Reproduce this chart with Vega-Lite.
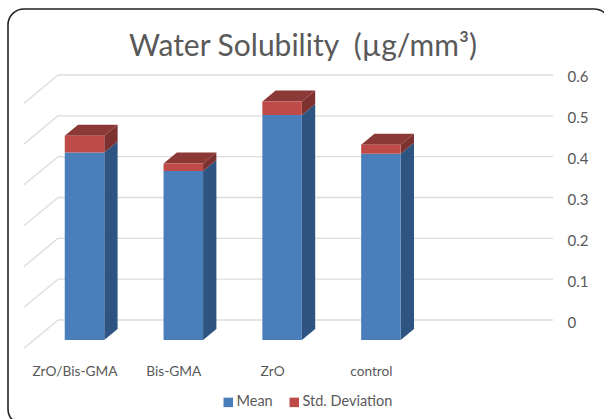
{
"$schema":"https://vega.github.io/schema/vega-lite/v6.json",
"width":602,"height":416,
"autosize":{"type":"none"},
"padding":{"left":8,"top":9,"right":-6,"bottom":-6},
"background":"white",
"view":{"stroke":"#222222","strokeWidth":1.6,"cornerRadius":16,"fill":"white"},
"config":{"font":"Lato"},
"title":{"text":"Water Solubility\u00a0\u00a0(µg/mm³)","font":"Lato","fontSize":30,"fontWeight":"normal","color":"#595959","anchor":"middle","offset":-53,"dx":-6},
"datasets":{
"bars":[
{"category":"ZrO/Bis-GMA","position":1,"series":"Mean","value":0.459},
{"category":"ZrO/Bis-GMA","position":1,"series":"Std. Deviation","value":0.041},
{"category":"Bis-GMA","position":2,"series":"Mean","value":0.414},
{"category":"Bis-GMA","position":2,"series":"Std. Deviation","value":0.018},
{"category":"ZrO","position":3,"series":"Mean","value":0.551},
{"category":"ZrO","position":3,"series":"Std. Deviation","value":0.033},
{"category":"control","position":4,"series":"Mean","value":0.456},
{"category":"control","position":4,"series":"Std. Deviation","value":0.022}
],
"grid":[
{"value":0,"back":0.732,"end":5.742,"front":0.388,"frontValue":-0.069},
{"value":0.1,"back":0.732,"end":5.742,"front":0.388,"frontValue":0.031},
{"value":0.2,"back":0.732,"end":5.742,"front":0.388,"frontValue":0.131},
{"value":0.3,"back":0.732,"end":5.742,"front":0.388,"frontValue":0.231},
{"value":0.4,"back":0.732,"end":5.742,"front":0.388,"frontValue":0.331},
{"value":0.5,"back":0.732,"end":5.742,"front":0.388,"frontValue":0.431},
{"value":0.6,"back":0.732,"end":5.742,"front":0.388,"frontValue":0.531}
],
"sideBlue":[
{"category":"ZrO/Bis-GMA","x":1.2,"low":0,"high":0.459},{"category":"ZrO/Bis-GMA","x":1.335,"low":0.027,"high":0.486},
{"category":"Bis-GMA","x":2.2,"low":0,"high":0.414},{"category":"Bis-GMA","x":2.335,"low":0.027,"high":0.441},
{"category":"ZrO","x":3.2,"low":0,"high":0.551},{"category":"ZrO","x":3.335,"low":0.027,"high":0.578},
{"category":"control","x":4.2,"low":0,"high":0.456},{"category":"control","x":4.335,"low":0.027,"high":0.483}
],
"sideRed":[
{"category":"ZrO/Bis-GMA","x":1.2,"low":0.459,"high":0.5},{"category":"ZrO/Bis-GMA","x":1.335,"low":0.486,"high":0.527},
{"category":"Bis-GMA","x":2.2,"low":0.414,"high":0.432},{"category":"Bis-GMA","x":2.335,"low":0.441,"high":0.459},
{"category":"ZrO","x":3.2,"low":0.551,"high":0.584},{"category":"ZrO","x":3.335,"low":0.578,"high":0.611},
{"category":"control","x":4.2,"low":0.456,"high":0.478},{"category":"control","x":4.335,"low":0.483,"high":0.505}
],
"top":[
{"category":"ZrO/Bis-GMA","x":0.8,"low":0.5,"high":0.5},{"category":"ZrO/Bis-GMA","x":0.935,"low":0.5,"high":0.527},{"category":"ZrO/Bis-GMA","x":1.2,"low":0.5,"high":0.527},{"category":"ZrO/Bis-GMA","x":1.335,"low":0.527,"high":0.527},
{"category":"Bis-GMA","x":1.8,"low":0.432,"high":0.432},{"category":"Bis-GMA","x":1.935,"low":0.432,"high":0.459},{"category":"Bis-GMA","x":2.2,"low":0.432,"high":0.459},{"category":"Bis-GMA","x":2.335,"low":0.459,"high":0.459},
{"category":"ZrO","x":2.8,"low":0.584,"high":0.584},{"category":"ZrO","x":2.935,"low":0.584,"high":0.611},{"category":"ZrO","x":3.2,"low":0.584,"high":0.611},{"category":"ZrO","x":3.335,"low":0.611,"high":0.611},
{"category":"control","x":3.8,"low":0.478,"high":0.478},{"category":"control","x":3.935,"low":0.478,"high":0.505},{"category":"control","x":4.2,"low":0.478,"high":0.505},{"category":"control","x":4.335,"low":0.505,"high":0.505}
]
},
"layer":[
{"data":{"name":"grid"},"mark":{"type":"rule","color":"#dcdcdc","strokeWidth":1.3},
 "encoding":{
 "x":{"field":"back","type":"quantitative","scale":{"domain":[0.2257,6.3188],"nice":false,"zero":false,"padding":0},"axis":{"title":null,"values":[1,2,3,4],"orient":"bottom","domain":false,"ticks":false,"grid":false,"labelExpr":"['ZrO/Bis-GMA','Bis-GMA','ZrO','control'][datum.value-1]","labelOffset":-10,"labelPadding":-61,"labelFontSize":13.7,"labelColor":"#595959","labelFont":"Lato","labelOverlap":false,"labelFlush":false}},
 "x2":{"field":"end"},
 "y":{"field":"value","type":"quantitative","scale":{"domain":[-0.2571,0.7616],"nice":false,"zero":false},"axis":{"title":null,"orient":"right","values":[0,0.1,0.2,0.3,0.4,0.5,0.6],"format":"~g","domain":false,"ticks":false,"grid":false,"labelPadding":-43,"labelAlign":"left","labelOffset":2,"labelFontSize":15,"labelColor":"#595959","labelFont":"Lato"}},
 "y2":{"field":"value"}
 }},
{"data":{"name":"grid"},"mark":{"type":"rule","color":"#dcdcdc","strokeWidth":1.3},
 "encoding":{"x":{"field":"back","type":"quantitative"},"x2":{"field":"front"},"y":{"field":"value","type":"quantitative"},"y2":{"field":"frontValue"}}},
{"data":{"name":"sideBlue"},"mark":{"type":"area","color":"#2e5482","yOffset":20,"y2Offset":20},
 "encoding":{"x":{"field":"x","type":"quantitative"},"y":{"field":"high","type":"quantitative"},"y2":{"field":"low"},"detail":{"field":"category"}}},
{"data":{"name":"sideRed"},"mark":{"type":"area","color":"#7d3230","yOffset":20,"y2Offset":20},
 "encoding":{"x":{"field":"x","type":"quantitative"},"y":{"field":"high","type":"quantitative"},"y2":{"field":"low"},"detail":{"field":"category"}}},
{"data":{"name":"top"},"mark":{"type":"area","color":"#8c3836","yOffset":20,"y2Offset":20},
 "encoding":{"x":{"field":"x","type":"quantitative"},"y":{"field":"high","type":"quantitative"},"y2":{"field":"low"},"detail":{"field":"category"}}},
{"data":{"name":"bars"},"mark":{"type":"bar","orient":"vertical","size":39.5,"yOffset":20,"y2Offset":20},
 "encoding":{
 "x":{"field":"position","type":"quantitative"},
 "y":{"field":"value","type":"quantitative","stack":"zero"},
 "order":{"field":"series"},
 "color":{"field":"series","type":"nominal","scale":{"domain":["Mean","Std. Deviation"],"range":["#4a7ebb","#be4b48"]},
  "legend":{"title":null,"orient":"none","legendX":213,"legendY":386,"direction":"horizontal","symbolType":"square","symbolSize":90,"labelFontSize":14.5,"labelOffset":1,"labelColor":"#595959","labelFont":"Lato","columnPadding":14,"symbolStrokeWidth":0}}
 }}
]
}
